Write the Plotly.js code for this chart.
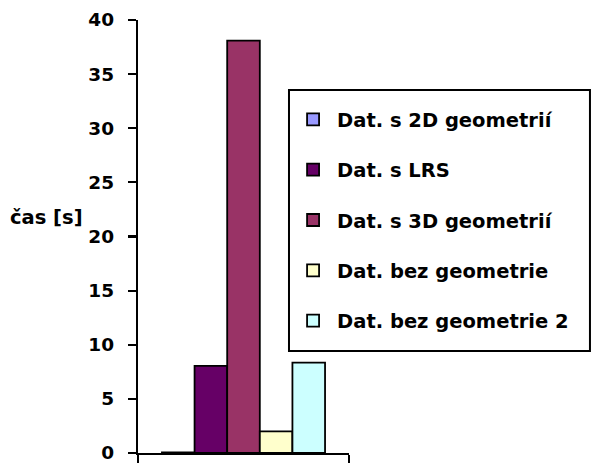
<!DOCTYPE html>
<html>
<head>
<meta charset="utf-8">
<script src="https://cdn.plot.ly/plotly-3.0.1.min.js"></script>
<style>html,body{margin:0;padding:0;background:#fff;}#chart{width:592px;height:463px;}</style>
</head>
<body>
<div id="chart"></div>
<script>
const category = ['Dotaz'];
const seriesNames = ['Dat. s 2D geometrií', 'Dat. s LRS', 'Dat. s 3D geometrií', 'Dat. bez geometrie', 'Dat. bez geometrie 2'];
const seriesValues = [0.05, 8.05, 38.1, 2.0, 8.35];
const seriesColors = ['#9999FF', '#660066', '#993366', '#FFFFCC', '#CCFFFF'];
const yTickVals = [0, 5, 10, 15, 20, 25, 30, 35, 40];
const yTitle = 'čas [s]';

const font = {family: 'DejaVu Sans, Arial, sans-serif', size: 19.5, color: '#000', weight: 'bold'};
const tickFont = {family: 'DejaVu Sans, Arial, sans-serif', size: 18.5, color: '#000', weight: 'bold'};

const traces = seriesNames.map((name, i) => ({
  type: 'bar',
  name: name,
  x: category,
  y: [seriesValues[i]],
  legendgroup: 'g' + i,
  marker: {color: seriesColors[i], line: {color: '#000', width: 1.8}},
  hoverinfo: 'skip'
}));

const layout = {
  width: 592, height: 463,
  margin: {l: 138, r: 243, t: 20, b: 10, pad: 0},
  paper_bgcolor: '#fff', plot_bgcolor: '#fff',
  font: font,
  barmode: 'group', bargap: 0.227, bargroupgap: 0,
  showlegend: true,
  legend: {
    x: 0.716, y: 0.815, xanchor: 'left', yanchor: 'top',
    bgcolor: 'rgba(0,0,0,0)', borderwidth: 0,
    font: font, traceorder: 'grouped', tracegroupgap: 22,
    itemwidth: 38, entrywidth: 250, entrywidthmode: 'pixels',
    itemclick: false
  },
  shapes: [{
    type: 'rect', xref: 'paper', yref: 'paper',
    x0: 0.7156, x1: 2.142, y0: 0.2356, y1: 0.8383,
    line: {color: '#000', width: 2}, fillcolor: '#fff', layer: 'above'
  }],
  xaxis: {
    type: 'category', showline: true, linecolor: '#000', linewidth: 2.2,
    ticks: 'outside', tickson: 'boundaries', ticklen: 8, tickwidth: 2.2, tickcolor: '#000',
    showticklabels: false, showgrid: false, zeroline: false, fixedrange: true
  },
  yaxis: {
    range: [0, 40], tickvals: yTickVals, ticktext: yTickVals.map(String),
    showline: true, linecolor: '#000', linewidth: 2.2,
    ticks: 'outside', ticklen: 8, tickwidth: 2.2, tickcolor: '#000',
    ticklabelstandoff: 10, ticklabeloverflow: 'allow',
    showgrid: false, zeroline: false, tickfont: tickFont, fixedrange: true
  },
  annotations: [{
    text: yTitle, xref: 'paper', yref: 'paper', x: -0.434, y: 0.543,
    xanchor: 'center', yanchor: 'middle', showarrow: false, font: font
  }]
};

Plotly.newPlot('chart', traces, layout, {staticPlot: true, displayModeBar: false});
</script>
</body>
</html>
